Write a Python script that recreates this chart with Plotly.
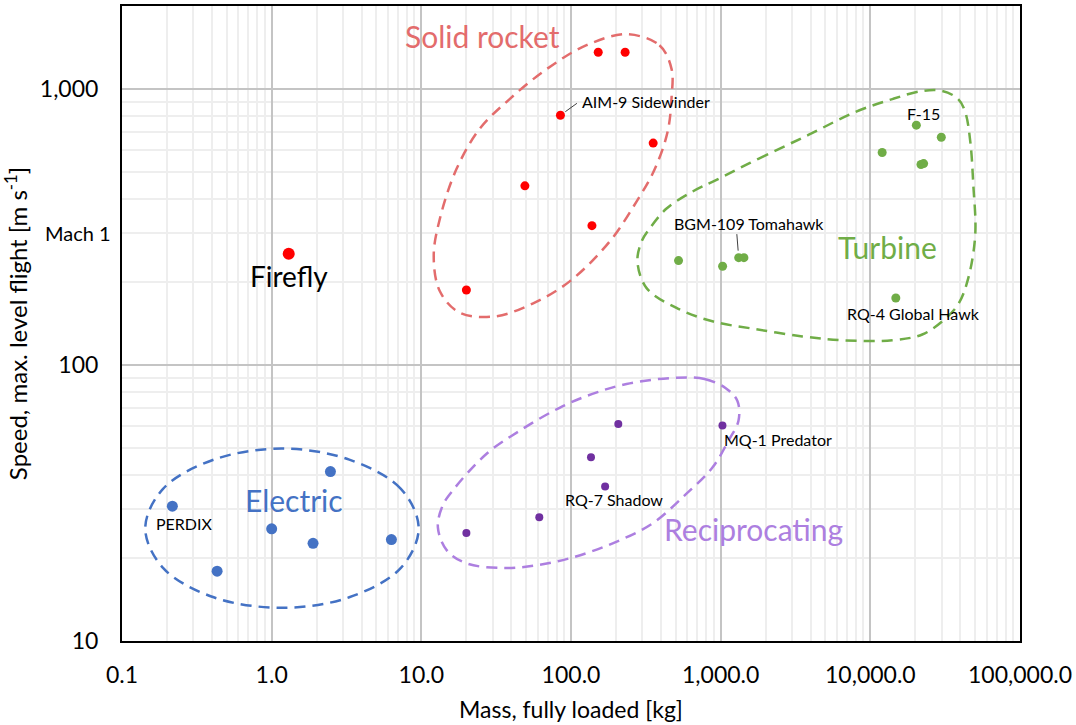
import math
import plotly.graph_objects as go

# ---------------- data ----------------
solid_mass = [152, 230, 85, 354, 49.2, 138, 20]
solid_speed = [1360, 1360, 804, 637, 446, 320, 187]

firefly_mass = [1.30]
firefly_speed = [253]

turbine_mass = [20300, 29800, 12000, 21800, 22700, 1320, 1430, 1030, 523, 14800]
turbine_speed = [740, 669, 589, 533, 537, 245, 245, 228, 239, 175]

recip_mass = [207, 136, 169, 20, 61.4, 1028]
recip_speed = [61.2, 46.3, 36.3, 24.6, 28.1, 60.4]

electric_mass = [0.217, 0.432, 1.0, 1.89, 2.47, 6.31]
electric_speed = [30.8, 17.9, 25.5, 22.6, 41.1, 23.3]

mach1_speed = 302

# group outlines (hand traced, data units)
solid_outline_mass = [235, 390, 470, 470, 442, 361, 274, 181, 98, 55.4, 30.9, 18.0,
                      13.3, 12.1, 13.3, 17.2, 24.5, 38.9, 68.7, 127]
solid_outline_speed = [1580, 1442, 1181, 935, 700, 510, 391, 280, 201, 167, 150, 155,
                       185, 248, 339, 514, 717, 920, 1181, 1442]

turbine_outline_mass = [938, 1787, 3855, 7943, 14030, 22230, 30270, 38650, 43050, 46560,
                        48750, 50230, 45080, 38650, 30270, 22230, 14030, 6501, 3516, 1706,
                        881, 507, 320, 278, 296, 335, 435, 648]
turbine_outline_speed = [469, 559, 682, 826, 920, 984, 984, 920, 826, 644,
                         450, 297, 206, 166, 144, 129, 123, 123, 127, 135,
                         144, 161, 190, 237, 280, 312, 369, 425]

recip_outline_mass = [476, 780, 1076, 1294, 1315, 1127, 881, 591, 351, 190, 103, 58.9,
                      34.9, 20.1, 14.8, 12.9, 13.9, 16.2, 27.3, 45.4, 83.9, 139, 235]
recip_outline_speed = [89.8, 89.0, 82.6, 74.1, 62.8, 53.2, 42.5, 34.2, 26.7, 22.6, 20.1, 18.8,
                       18.4, 19.1, 21.3, 25.8, 31.0, 35.1, 47.7, 57.8, 70.0, 78.6, 85.4]

electric_outline_mass = [9.6, 7.3, 3.3, 1.17, 0.41, 0.188, 0.143, 0.188, 0.41, 1.17, 3.3, 7.3]
electric_outline_speed = [25.6, 35.6, 45.4, 49.8, 45.4, 35.6, 25.6, 18.4, 14.4, 13.2, 14.4, 18.4]

x_tick_vals = [0.1, 1, 10, 100, 1000, 10000, 100000]
x_tick_text = ["0.1", "1.0", "10.0", "100.0", "1,000.0", "10,000.0", "100,000.0"]
y_tick_vals = [10, 100, 1000]
y_tick_text = ["10", "100", "1,000"]

# ---------------- styles ----------------
FONT = "Lato, Carlito, Calibri, sans-serif"
C_SOLID_LINE = "#e36c6c"
C_TURB = "#70ad47"
C_ELEC = "#4472c4"
C_RECIP_LINE = "#ad7fe0"
C_RECIP_PT = "#7030a0"
LBL = 16      # small point labels
GRP = 30      # group names

fig = go.Figure()


def outline(xs, ys, color):
    fig.add_trace(go.Scatter(
        x=list(xs) + [xs[0]], y=list(ys) + [ys[0]], mode="lines",
        line=dict(color=color, width=2.5, dash="11px,7px", shape="spline", smoothing=1),
        hoverinfo="skip", showlegend=False))


outline(solid_outline_mass, solid_outline_speed, C_SOLID_LINE)
outline(turbine_outline_mass, turbine_outline_speed, C_TURB)
outline(recip_outline_mass, recip_outline_speed, C_RECIP_LINE)
outline(electric_outline_mass, electric_outline_speed, C_ELEC)


def pts(xs, ys, color, size):
    fig.add_trace(go.Scatter(x=xs, y=ys, mode="markers",
                             marker=dict(color=color, size=size, line=dict(width=0)),
                             showlegend=False))


pts(solid_mass, solid_speed, "#ff0000", 9)
pts(firefly_mass, firefly_speed, "#ff0000", 12)
pts(turbine_mass, turbine_speed, C_TURB, 9)
pts(recip_mass, recip_speed, C_RECIP_PT, 8)
pts(electric_mass, electric_speed, C_ELEC, 11)

L = math.log10

# Mach 1 reference line (log axis -> shape coords in log10)
fig.add_shape(type="line", xref="paper", x0=0, x1=1, yref="y",
              y0=L(mach1_speed), y1=L(mach1_speed),
              line=dict(color="#7f7f7f", width=1.5), layer="below")

ann = []


def label(x, y, text, size=LBL, color="black", xshift=0, yshift=0):
    ann.append(dict(x=L(x), y=L(y), xref="x", yref="y", text=text, showarrow=False,
                    font=dict(family=FONT, size=size, color=color),
                    xanchor="center", yanchor="middle", xshift=xshift, yshift=yshift))


def leader(x, y, ax, ay, standoff):
    ann.append(dict(x=L(x), y=L(y), xref="x", yref="y", text="", showarrow=True,
                    ax=ax, ay=ay, arrowhead=0, arrowwidth=1, arrowcolor="#404040",
                    standoff=standoff))


# group names
label(25.7, 1490, "Solid rocket", GRP, C_SOLID_LINE, 0, 5)
label(13000, 258, "Turbine", GRP, C_TURB, 0, 4)
label(1.42, 31.8, "Electric", GRP, C_ELEC, 0, 2)
label(1656, 25.2, "Reciprocating", GRP, C_RECIP_LINE, 0, 1)

# point labels
label(firefly_mass[0], firefly_speed[0], "Firefly", 28, "black", 0, -22)
label(solid_mass[2], solid_speed[2], "AIM-9 Sidewinder", LBL, "black", 86, 14)
leader(solid_mass[2], solid_speed[2], 18, -13, 6)
label(turbine_mass[0], turbine_speed[0], "F-15", LBL, "black", 7, 12)
label(turbine_mass[5], turbine_speed[5], "BGM-109 Tomahawk", LBL, "black", 10, 34)
leader(turbine_mass[5], turbine_speed[5], -2, -25, 7)
label(turbine_mass[9], turbine_speed[9], "RQ-4 Global Hawk", LBL, "black", 18, -16)
label(recip_mass[5], recip_speed[5], "MQ-1 Predator", LBL, "black", 56, -14)
label(recip_mass[2], recip_speed[2], "RQ-7 Shadow", LBL, "black", 9, -13)
label(electric_mass[0], electric_speed[0], "PERDIX", LBL, "black", 12, -17)

# Mach 1 tick label
ann.append(dict(x=0, y=L(mach1_speed), xref="paper", yref="y", text="Mach 1", showarrow=False,
                xanchor="right", yanchor="middle", xshift=-9,
                font=dict(family=FONT, size=20, color="black")))

minor_x = [m * 10 ** k for k in range(-1, 5) for m in range(2, 10)]
minor_y = [m * 10 ** k for k in range(1, 4) for m in range(2, 10)]

fig.update_layout(
    width=1076, height=725,
    margin=dict(l=122, r=55, t=4, b=84),
    paper_bgcolor="white", plot_bgcolor="white",
    font=dict(family=FONT, size=23, color="black"),
    annotations=ann,
    showlegend=False,
    hovermode=False,
    xaxis=dict(type="log", range=[-1, 5], tickmode="array", tickvals=x_tick_vals,
               ticktext=x_tick_text, ticks="", ticklabelstandoff=12,
               showgrid=True, gridcolor="#c4c4c4", gridwidth=1.5,
               minor=dict(tickmode="array", tickvals=minor_x, showgrid=True,
                          gridcolor="#eeeeee", gridwidth=1.5, ticks=""),
               showline=True, mirror=True, linecolor="black", linewidth=2,
               zeroline=False,
               title=dict(text="Mass, fully loaded [kg]", font=dict(size=23), standoff=15)),
    yaxis=dict(type="log", range=[1, 3.30103], tickmode="array", tickvals=y_tick_vals,
               ticktext=y_tick_text, ticks="", ticklabelstandoff=17,
               showgrid=True, gridcolor="#c4c4c4", gridwidth=1.5,
               minor=dict(tickmode="array", tickvals=minor_y, showgrid=True,
                          gridcolor="#eeeeee", gridwidth=1.5, ticks=""),
               showline=True, mirror=True, linecolor="black", linewidth=2,
               zeroline=False,
               title=dict(text="Speed, max. level flight [m s<sup>-1</sup>]",
                          font=dict(size=24), standoff=8)),
)

fig.write_html("out.html")
